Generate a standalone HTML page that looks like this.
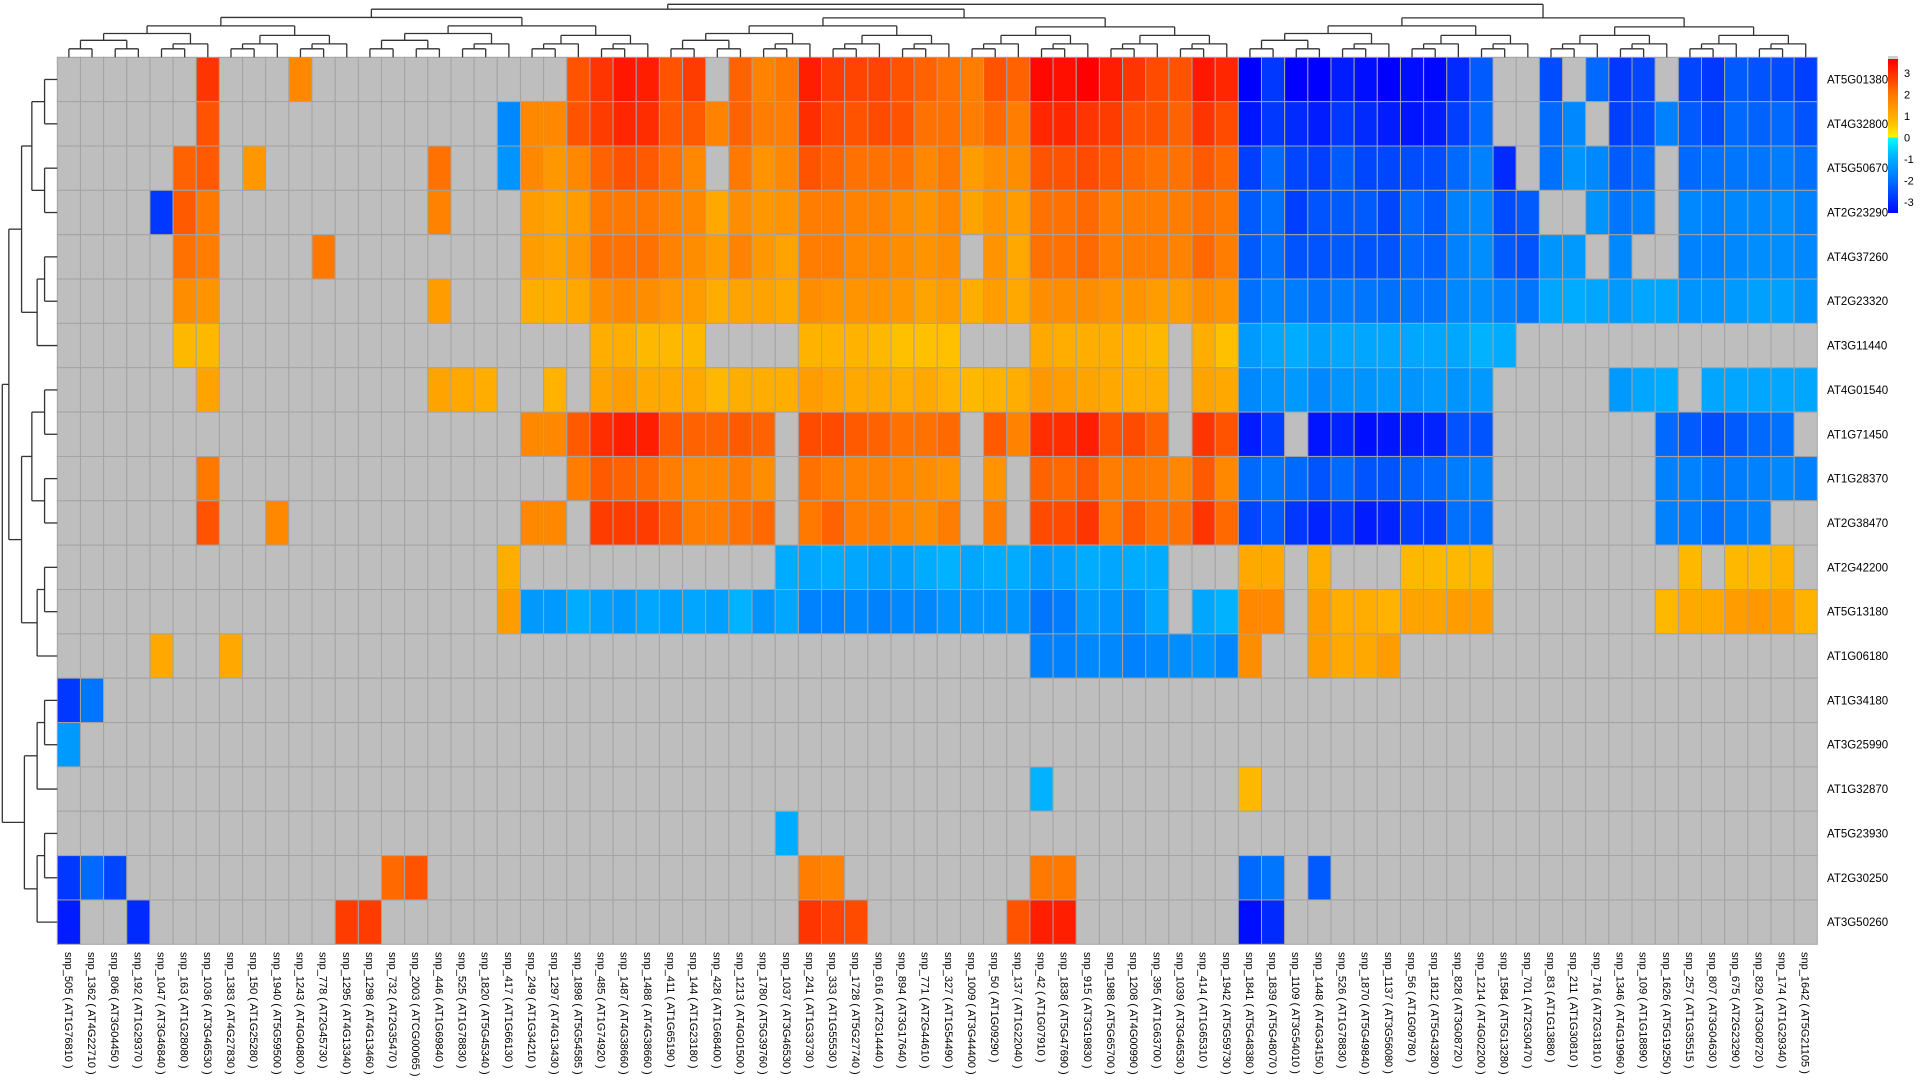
<!DOCTYPE html>
<html><head><meta charset="utf-8">
<style>
html,body{margin:0;padding:0;background:#fff;}
svg{display:block;font-family:"Liberation Sans",sans-serif;}
</style></head>
<body>
<svg id="chart" width="1920" height="1080" viewBox="0 0 1920 1080"></svg>
<script>
const _ = null;
const colLabels = ["snp_505 ( AT1G76810 )","snp_1362 ( AT4G22710 )","snp_806 ( AT3G04450 )","snp_192 ( AT1G29370 )","snp_1047 ( AT3G46840 )","snp_163 ( AT1G28080 )","snp_1036 ( AT3G46530 )","snp_1383 ( AT4G27830 )","snp_150 ( AT1G25280 )","snp_1940 ( AT5G59500 )","snp_1243 ( AT4G04800 )","snp_778 ( AT2G45730 )","snp_1295 ( AT4G13340 )","snp_1298 ( AT4G13460 )","snp_732 ( AT2G35470 )","snp_2003 ( ATCG00065 )","snp_446 ( AT1G69840 )","snp_525 ( AT1G78830 )","snp_1820 ( AT5G45340 )","snp_417 ( AT1G66130 )","snp_249 ( AT1G34210 )","snp_1297 ( AT4G13430 )","snp_1898 ( AT5G54585 )","snp_485 ( AT1G74920 )","snp_1487 ( AT4G38660 )","snp_1488 ( AT4G38660 )","snp_411 ( AT1G65190 )","snp_144 ( AT1G23180 )","snp_428 ( AT1G68400 )","snp_1213 ( AT4G01500 )","snp_1780 ( AT5G39760 )","snp_1037 ( AT3G46530 )","snp_241 ( AT1G33730 )","snp_333 ( AT1G55530 )","snp_1728 ( AT5G27740 )","snp_616 ( AT2G14440 )","snp_894 ( AT3G17640 )","snp_771 ( AT2G44610 )","snp_327 ( AT1G54490 )","snp_1009 ( AT3G44400 )","snp_50 ( AT1G09290 )","snp_137 ( AT1G22040 )","snp_42 ( AT1G07910 )","snp_1838 ( AT5G47690 )","snp_915 ( AT3G19830 )","snp_1988 ( AT5G65700 )","snp_1208 ( AT4G00990 )","snp_395 ( AT1G63700 )","snp_1039 ( AT3G46530 )","snp_414 ( AT1G65310 )","snp_1942 ( AT5G59730 )","snp_1841 ( AT5G48380 )","snp_1839 ( AT5G48070 )","snp_1109 ( AT3G54010 )","snp_1448 ( AT4G34150 )","snp_526 ( AT1G78830 )","snp_1870 ( AT5G49840 )","snp_1137 ( AT3G56080 )","snp_56 ( AT1G09780 )","snp_1812 ( AT5G43280 )","snp_828 ( AT3G08720 )","snp_1214 ( AT4G02200 )","snp_1584 ( AT5G13280 )","snp_701 ( AT2G30470 )","snp_83 ( AT1G13880 )","snp_211 ( AT1G30810 )","snp_716 ( AT2G31810 )","snp_1346 ( AT4G19960 )","snp_109 ( AT1G18890 )","snp_1626 ( AT5G19250 )","snp_257 ( AT1G35515 )","snp_807 ( AT3G04630 )","snp_675 ( AT2G23290 )","snp_829 ( AT3G08720 )","snp_174 ( AT1G29340 )","snp_1642 ( AT5G21105 )"];
const rowLabels = ["AT5G01380","AT4G32800","AT5G50670","AT2G23290","AT4G37260","AT2G23320","AT3G11440","AT4G01540","AT1G71450","AT1G28370","AT2G38470","AT2G42200","AT5G13180","AT1G06180","AT1G34180","AT3G25990","AT1G32870","AT5G23930","AT2G30250","AT3G50260"];
const legendTicks = [3,2,1,0,-1,-2,-3];

const r0 = [_,_,_,_,_,_,2.9,_,_,_, 1.7,_,_,_,_,_,_,_,_,_, _,_,2.5,2.9,3.3, 3.2,2.5,2.8,_,2.3,1.8,2.0,3.2,2.8,2.7,2.7,2.5,2.3,2.1,1.9,2.5,2.3,3.5,3.4,3.6,3.2,2.9,2.6,2.5,3.3,3.1, -3.6,-2.8,-3.6,-3.6,-3.2,-3.4,-3.6,-3.4,-3.5,-3.0,-2.3,_,_,-2.5,_,-2.1,-2.8,-2.6,_,-2.6,-2.8,-2.3,-2.4,-2.5,-2.7];
const r1 = [_,_,_,_,_,_,2.5,_,_,_, _,_,_,_,_,_,_,_,_,-1.6, 1.7,1.7,2.5,2.8,3.1, 3.0,2.4,2.4,1.8,2.3,1.9,1.9,3.0,2.6,2.5,2.6,2.5,2.1,2.1,1.9,2.2,1.9,3.1,3.1,2.9,2.8,2.5,2.5,2.3,2.9,2.6, -3.3,-2.8,-3.0,-3.2,-2.8,-3.0,-3.2,-3.3,-3.2,-2.7,-2.1,_,_,-2.1,-1.6,_,-2.7,-2.5,-1.7,-2.3,-2.5,-2.1,-2.2,-2.1,-2.4];
const r2 = [_,_,_,_,_,2.3,2.4,_,1.4,_, _,_,_,_,_,_,2.1,_,_,-1.4, 1.7,1.4,1.7,2.3,2.5, 2.4,2.1,1.7,_,2.0,1.5,1.7,2.5,2.3,2.1,2.1,2.1,1.7,2.0,1.3,1.6,1.6,2.5,2.5,2.6,2.4,2.2,2.1,2.1,2.4,2.2, -2.7,-2.1,-2.6,-2.7,-2.3,-2.6,-2.6,-2.5,-2.5,-2.1,-1.7,-3.0,_,-2.0,-1.4,-1.6,-2.3,-2.1,_,-2.1,-2.0,-1.9,-1.9,-1.8,-2.0];
const r3 = [_,_,_,_,-2.8,2.4,2.0,_,_,_, _,_,_,_,_,_,1.8,_,_,_, 1.3,1.2,1.3,2.0,2.0, 2.0,1.8,1.7,1.1,1.6,1.4,1.5,1.9,1.9,1.8,1.8,1.6,1.5,1.7,1.2,1.5,1.3,2.1,2.1,2.2,1.9,1.9,1.9,1.9,2.1,2.0, -2.3,-2.0,-2.7,-2.4,-2.3,-2.3,-2.6,-2.1,-2.3,-1.7,-1.6,-2.5,-2.3,_,_,-1.4,-1.9,-1.7,_,-1.6,-1.7,-1.6,-1.6,-1.5,-1.7];
const r4 = [_,_,_,_,_,2.1,1.9,_,_,_, _,2.0,_,_,_,_,_,_,_,_, 1.3,1.2,1.4,2.1,2.1, 2.1,1.8,1.6,1.3,1.8,1.4,1.2,1.9,1.9,1.7,1.7,1.6,1.5,1.6,_,1.5,1.1,2.1,2.1,2.2,1.9,1.9,1.9,1.8,2.2,1.9, -2.3,-2.0,-2.4,-2.4,-2.3,-2.4,-2.4,-2.1,-2.2,-1.7,-1.5,-2.3,-2.4,-1.4,-1.3,_,-1.6,_,_,-1.7,-1.7,-1.6,-1.5,-1.5,-1.6];
const r5 = [_,_,_,_,_,1.6,1.5,_,_,_, _,_,_,_,_,_,1.3,_,_,_, 1.0,1.0,1.1,1.6,1.7, 1.6,1.4,1.3,1.0,1.2,1.2,1.1,1.6,1.5,1.5,1.5,1.4,1.2,1.3,1.0,1.3,1.1,1.6,1.6,1.6,1.5,1.5,1.3,1.3,1.6,1.5, -2.0,-1.7,-1.8,-2.0,-1.8,-1.9,-2.0,-1.9,-1.9,-1.6,-1.5,-1.7,-1.9,-1.1,-1.0,-1.1,-1.3,-1.1,-1.1,-1.4,-1.4,-1.3,-1.2,-1.2,-1.4];
const r6 = [_,_,_,_,_,0.8,0.8,_,_,_, _,_,_,_,_,_,_,_,_,_, _,_,_,1.0,1.0, 0.8,0.8,0.8,_,_,_,_,0.9,0.9,0.9,0.8,0.7,0.7,0.7,_,_,_,1.1,1.0,1.0,1.0,0.9,0.8,_,1.0,0.7, -1.3,-1.1,-1.0,-1.2,-1.1,-1.1,-1.1,-1.1,-1.1,-1.1,-0.9,-1.0,_,_,_,_,_,_,_,_,_,_,_,_,_];
const r7 = [_,_,_,_,_,_,1.2,_,_,_, _,_,_,_,_,_,1.2,1.1,1.0,_, _,0.9,_,1.2,1.3, 1.1,1.1,1.1,0.8,1.0,1.0,1.0,1.3,1.2,1.1,1.1,1.0,1.1,0.9,0.8,0.9,1.0,1.4,1.3,1.2,1.1,1.0,1.0,_,1.2,1.1, -1.6,-1.4,-1.3,-1.6,-1.4,-1.4,-1.3,-1.4,-1.3,-1.4,-1.3,_,_,_,_,_,-1.3,-1.1,-1.0,_,-1.1,-1.1,-1.1,-1.1,-1.1];
const r8 = [_,_,_,_,_,_,_,_,_,_, _,_,_,_,_,_,_,_,_,_, 1.7,1.7,2.4,3.0,3.2, 3.2,2.4,2.3,2.3,2.4,2.3,_,2.6,2.6,2.4,2.3,2.1,2.1,2.2,_,2.4,1.8,3.0,3.0,3.2,2.5,2.6,2.3,_,2.9,2.5, -3.2,-2.7,_,-3.3,-3.1,-3.4,-3.3,-3.2,-3.1,-2.4,-2.4,_,_,_,_,_,_,_,-2.1,-2.3,-2.5,-2.3,-2.1,-2.0,_];
const r9 = [_,_,_,_,_,_,2.0,_,_,_, _,_,_,_,_,_,_,_,_,_, _,_,1.9,2.4,2.3, 2.2,1.9,1.7,1.7,1.9,1.6,_,2.1,1.9,1.8,1.8,1.7,1.6,1.5,_,1.5,_,2.3,2.2,2.4,1.9,2.0,1.9,1.7,2.4,1.7, -2.1,-1.9,-2.1,-2.4,-2.1,-2.4,-2.4,-2.2,-2.1,-1.8,-1.7,_,_,_,_,_,_,_,-1.7,-1.7,-1.9,-1.8,-1.7,-1.6,-1.7];
const r10 = [_,_,_,_,_,_,2.5,_,_,1.7, _,_,_,_,_,_,_,_,_,_, 1.7,1.7,_,2.8,2.8, 2.8,2.4,1.9,1.9,2.1,2.2,_,2.0,2.3,1.9,1.9,1.7,1.6,1.9,_,1.9,_,2.6,2.6,2.9,2.0,2.4,2.1,2.1,2.9,2.2, -2.6,-2.3,-2.8,-3.1,-2.8,-3.2,-3.1,-2.7,-2.7,-2.0,-2.0,_,_,_,_,_,_,_,-1.7,-1.8,-2.0,-1.8,-1.7,_,_];
const r11 = [_,_,_,_,_,_,_,_,_,_, _,_,_,_,_,_,_,_,_,1.0, _,_,_,_,_, _,_,_,_,_,_,-1.0,-1.1,-1.0,-1.1,-1.2,-1.2,-1.0,-0.9,-1.1,-1.0,-1.0,-1.3,-1.2,-1.0,-1.1,-1.0,-1.0,_,_,_, 1.1,1.1,_,1.0,_,_,_,0.8,0.8,0.8,0.8,_,_,_,_,_,_,_,_,0.8,_,0.8,0.8,0.9,_];
const r12 = [_,_,_,_,_,_,_,_,_,_, _,_,_,_,_,_,_,_,_,1.3, -1.3,-1.3,-1.0,-1.2,-1.3, -1.1,-1.2,-1.1,-1.2,-0.9,-1.4,-1.1,-1.7,-1.7,-1.6,-1.7,-1.6,-1.6,-1.4,-1.4,-1.4,-1.4,-1.9,-1.8,-1.3,-1.4,-1.5,-1.1,_,-1.1,-0.9, 1.7,1.7,_,1.3,1.0,1.0,0.9,1.2,1.2,1.3,1.3,_,_,_,_,_,_,_,0.8,1.1,1.1,1.3,1.4,1.3,0.9];
const r13 = [_,_,_,_,1.1,_,_,1.1,_,_, _,_,_,_,_,_,_,_,_,_, _,_,_,_,_, _,_,_,_,_,_,_,_,_,_,_,_,_,_,_,_,_,-1.7,-1.7,-1.6,-1.6,-1.7,-1.6,-1.5,-1.4,-1.6, 1.6,_,_,1.3,1.1,1.1,1.3,_,_,_,_,_,_,_,_,_,_,_,_,_,_,_,_,_,_];
const r14 = [-2.8,-1.9,_,_,_,_,_,_,_,_, _,_,_,_,_,_,_,_,_,_, _,_,_,_,_, _,_,_,_,_,_,_,_,_,_,_,_,_,_,_,_,_,_,_,_,_,_,_,_,_,_, _,_,_,_,_,_,_,_,_,_,_,_,_,_,_,_,_,_,_,_,_,_,_,_,_];
const r15 = [-1.3,_,_,_,_,_,_,_,_,_, _,_,_,_,_,_,_,_,_,_, _,_,_,_,_, _,_,_,_,_,_,_,_,_,_,_,_,_,_,_,_,_,_,_,_,_,_,_,_,_,_, _,_,_,_,_,_,_,_,_,_,_,_,_,_,_,_,_,_,_,_,_,_,_,_,_];
const r16 = [_,_,_,_,_,_,_,_,_,_, _,_,_,_,_,_,_,_,_,_, _,_,_,_,_, _,_,_,_,_,_,_,_,_,_,_,_,_,_,_,_,_,-0.9,_,_,_,_,_,_,_,_, 0.8,_,_,_,_,_,_,_,_,_,_,_,_,_,_,_,_,_,_,_,_,_,_,_,_];
const r17 = [_,_,_,_,_,_,_,_,_,_, _,_,_,_,_,_,_,_,_,_, _,_,_,_,_, _,_,_,_,_,_,-1.0,_,_,_,_,_,_,_,_,_,_,_,_,_,_,_,_,_,_,_, _,_,_,_,_,_,_,_,_,_,_,_,_,_,_,_,_,_,_,_,_,_,_,_,_];
const r18 = [-2.8,-2.1,-2.6,_,_,_,_,_,_,_, _,_,_,_,2.2,2.5,_,_,_,_, _,_,_,_,_, _,_,_,_,_,_,_,1.9,1.8,_,_,_,_,_,_,_,_,2.0,2.0,_,_,_,_,_,_,_, -2.1,-1.9,_,-2.3,_,_,_,_,_,_,_,_,_,_,_,_,_,_,_,_,_,_,_,_,_];
const r19 = [-3.2,_,_,-3.0,_,_,_,_,_,_, _,_,2.8,2.8,_,_,_,_,_,_, _,_,_,_,_, _,_,_,_,_,_,_,2.9,2.7,2.6,_,_,_,_,_,_,2.5,3.2,3.2,_,_,_,_,_,_,_, -3.4,-3.0,_,_,_,_,_,_,_,_,_,_,_,_,_,_,_,_,_,_,_,_,_,_,_];
const rows = [r0,r1,r2,r3,r4,r5,r6,r7,r8,r9,r10,r11,r12,r13,r14,r15,r16,r17,r18,r19];

const NS = "http://www.w3.org/2000/svg";
const svg = document.getElementById("chart");
const X0 = 57.3, Y0 = 57.3, X1 = 1817.3, Y1 = 944.3;
const cw = (X1 - X0) / colLabels.length;
const ch = (Y1 - Y0) / rowLabels.length;
const xScale = i => X0 + i * cw;
const yScale = j => Y0 + j * ch;

const posStops = [[0,[255,245,0]],[0.8,[255,184,0]],[2,[255,120,0]],[3.6,[255,0,0]]];
const negStops = [[0,[0,255,255]],[0.8,[0,184,255]],[2,[0,112,255]],[3.6,[0,0,255]]];
function color(v){
  const st = v >= 0 ? posStops : negStops;
  const a = Math.min(Math.abs(v), 3.6);
  for (let k = 1; k < st.length; k++){
    if (a <= st[k][0]){
      const t = (a - st[k-1][0]) / (st[k][0] - st[k-1][0]);
      const c = st[k-1][1].map((c0, m) => Math.round(c0 + (st[k][1][m] - c0) * t));
      return "rgb(" + c.join(",") + ")";
    }
  }
  return "rgb(" + st[st.length-1][1].join(",") + ")";
}
function mk(tag, attrs){
  const e = document.createElementNS(NS, tag);
  for (const k in attrs) e.setAttribute(k, attrs[k]);
  return e;
}

// cells
const gCells = mk("g", {});


svg.appendChild(gCells);
rows.forEach((row, j) => {
  row.forEach((v, i) => {
    const r = mk("rect", {x: xScale(i), y: yScale(j), width: cw, height: ch,
      fill: v === null ? "#bebebe" : color(v), stroke: "#a3a3a3", "stroke-width": 1});
    
    
    gCells.appendChild(r);
  });
});

// row labels
rowLabels.forEach((lab, j) => {
  const t = mk("text", {x: 1827, y: yScale(j) + ch/2 + 4, "font-size": 11.5, fill: "#000"});
  t.textContent = lab;
  
  
  svg.appendChild(t);
});
// column labels
colLabels.forEach((lab, i) => {
  const cx = xScale(i) + cw/2;
  const t = mk("text", {transform: "translate(" + (cx - 4) + ",952) rotate(90)", "font-size": 11, fill: "#000"});
  t.textContent = lab;
  
  
  svg.appendChild(t);
});

// dendrograms
const gD = mk("g", {stroke: "#333", "stroke-width": 1.3, fill: "none"});


svg.appendChild(gD);
function line(x1,y1,x2,y2){
  const l = mk("line", {x1:x1, y1:y1, x2:x2, y2:y2});
  
  
  gD.appendChild(l);
}
function buildTop(lo, hi, split){
  if (lo === hi) return {p: xScale(lo) + cw/2, h: Y0};
  const n = hi - lo + 1;
  const m = split !== undefined ? split : Math.floor((lo + hi) / 2);
  const a = buildTop(lo, m), b = buildTop(m + 1, hi);
  const h = Y0 - 53 * Math.log(n) / Math.log(colLabels.length);
  line(a.p, a.h, a.p, h); line(b.p, b.h, b.p, h); line(a.p, h, b.p, h);
  return {p: (a.p + b.p) / 2, h: h};
}
buildTop(0, colLabels.length - 1, 50);
function buildLeft(lo, hi, split){
  if (lo === hi) return {p: yScale(lo) + ch/2, h: X0};
  const n = hi - lo + 1;
  const m = split !== undefined ? split : Math.floor((lo + hi) / 2);
  const a = buildLeft(lo, m), b = buildLeft(m + 1, hi);
  const h = X0 - 55 * Math.log(n) / Math.log(rowLabels.length);
  line(a.h, a.p, h, a.p); line(b.h, b.p, h, b.p); line(h, a.p, h, b.p);
  return {p: (a.p + b.p) / 2, h: h};
}
buildLeft(0, rowLabels.length - 1, 13);

// legend
const LT = 58, LB = 213, vTop = 3.7, vBot = -3.5;
const vToY = v => LT + (vTop - v) / (vTop - vBot) * (LB - LT);
const defs = mk("defs", {});
const grad = mk("linearGradient", {id: "lg", x1: 0, y1: 0, x2: 0, y2: 1});
for (let k = 0; k <= 72; k++){
  const v = vTop - k * 0.1;
  const off = (vTop - v) / (vTop - vBot);
  grad.appendChild(mk("stop", {offset: off, "stop-color": color(v >= 0.0001 ? v : (v > -0.05 ? 0.0001 : v))}));
  if (Math.abs(v) < 0.05){
    grad.appendChild(mk("stop", {offset: off, "stop-color": "rgb(255,245,0)"}));
    grad.appendChild(mk("stop", {offset: off, "stop-color": "rgb(0,255,255)"}));
  }
}
defs.appendChild(grad);
svg.appendChild(defs);
const lr = mk("rect", {x: 1888, y: LT, width: 10, height: LB - LT, fill: "url(#lg)"});


svg.appendChild(lr);
const cap = mk("rect", {x: 1888, y: LT - 2, width: 10, height: 3, fill: "#d0d0d0"});


svg.appendChild(cap);
legendTicks.forEach(v => {
  const t = mk("text", {x: 1904, y: vToY(v) + 4, "font-size": 11, fill: "#000"});
  t.textContent = String(v);
  
  
  svg.appendChild(t);
});
</script>
</body></html>
